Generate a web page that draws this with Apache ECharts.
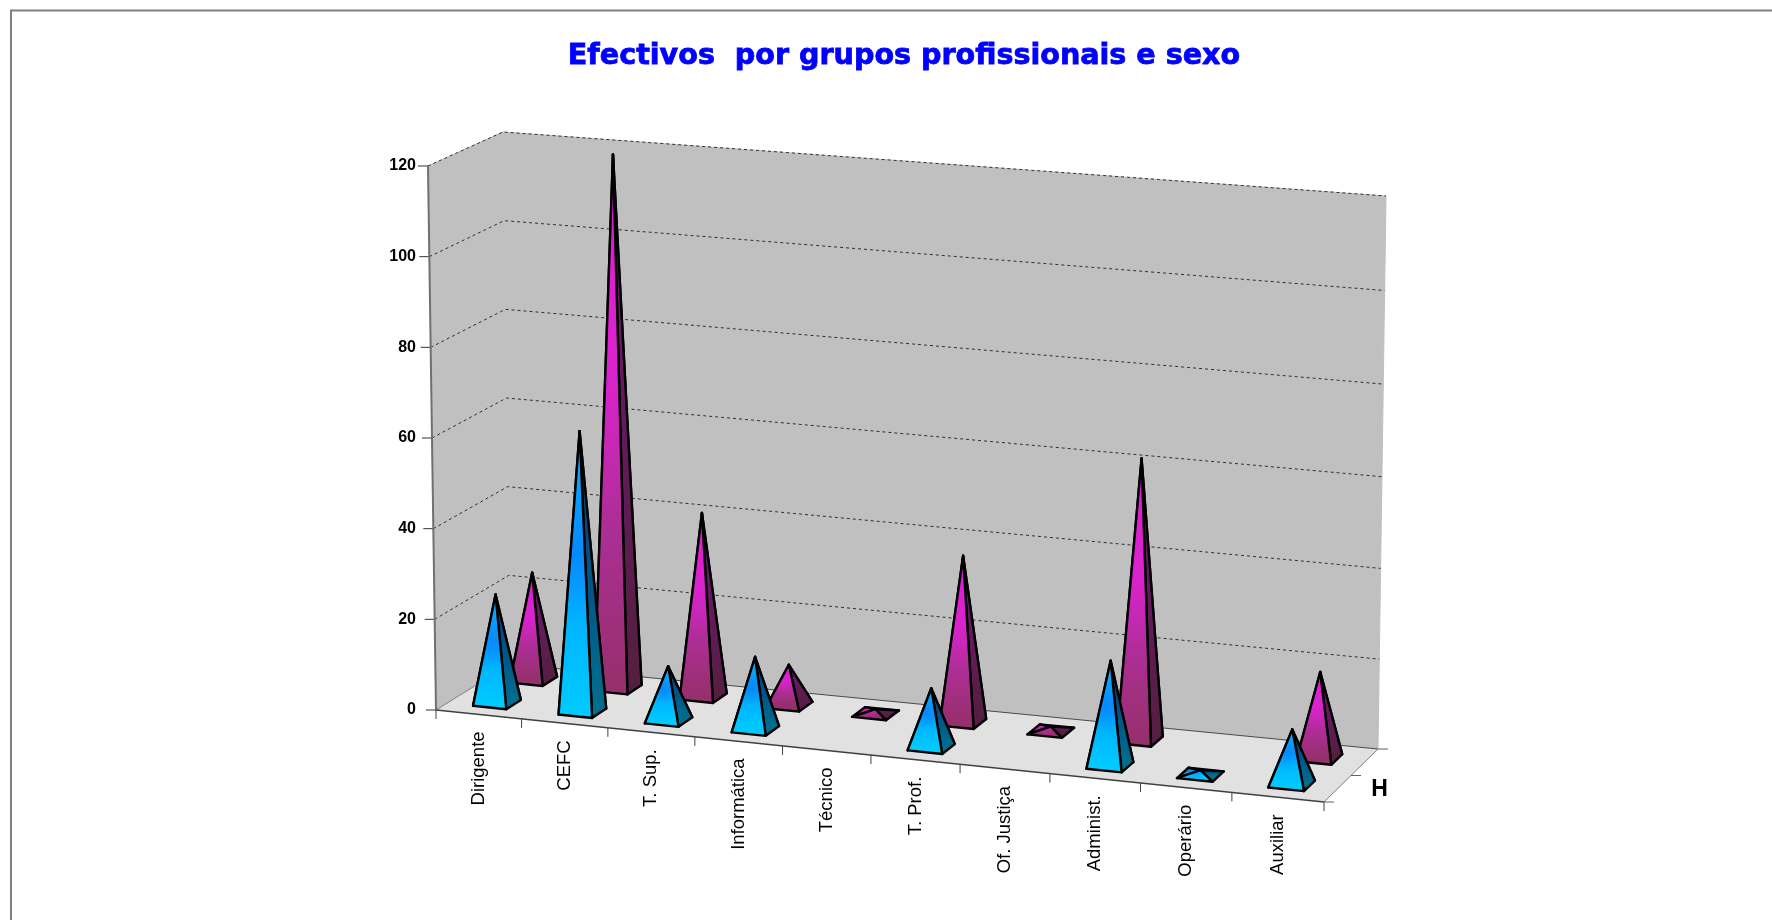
<!DOCTYPE html>
<html lang="pt">
<head>
<meta charset="utf-8">
<title>Efectivos por grupos profissionais e sexo</title>
<style>html,body{margin:0;padding:0;background:#fff}#chart{width:1772px;height:920px}</style>
<script src="https://cdn.jsdelivr.net/npm/echarts@6/dist/echarts.min.js"></script>
</head>
<body>
<div id="chart"></div>
<script>
// ---- data ----
const titleText = 'Efectivos  por grupos profissionais e sexo';
const categories = ['Dirigente','CEFC','T. Sup.','Informática','Técnico','T. Prof.','Of. Justiça','Administ.','Operário','Auxiliar'];
const homens   = [24, 62, 12, 16, null, 13, null, 23, 1, 12];
const mulheres = [24, 119, 41, 9, 1, 37, 1, 62, null, 19];
const yMax = 120;
const yStep = 20;
const yTicks = [0, 20, 40, 60, 80, 100, 120];
const depthLabel = 'H';

// ---- 3D box layout: [u(0 left..1 right), v(0 floor..1 top), w(0 front..1 back)] corners in page pixels ----
const box = {
  '000': [436, 710], '100': [1324, 802], '001': [510, 664], '101': [1378, 749],
  '010': [428, 166], '110': [1332, 237], '011': [503, 132], '111': [1386, 196]
};
const perspU = -0.04;
const perspV = -0.03;
const baseHalfU = 0.195;   // fraction of one category band
const baseHalfW = 0.10;    // fraction of box depth
const rowW = { H: 0.25, M: 0.75 };

function lerp(a, b, t) { return [a[0] + (b[0] - a[0]) * t, a[1] + (b[1] - a[1]) * t]; }
function project(u, v0, w) {
  const p = u * (1 + perspU) / (1 + perspU * u);
  const h = perspV * u;
  const v = v0 * (1 + h) / (1 + h * v0);
  const lowF = lerp(box['000'], box['100'], p), lowB = lerp(box['001'], box['101'], p);
  const upF  = lerp(box['010'], box['110'], p), upB  = lerp(box['011'], box['111'], p);
  return lerp(lerp(lowF, lowB, w), lerp(upF, upB, w), v);
}
function norm(params, pt) {
  const cs = params.coordSys;
  return { u: (pt[0] - cs.x) / cs.width, v: (cs.y + cs.height - pt[1]) / cs.height };
}

const palettes = {
  H: {
    front: [[0, '#10a8fa'], [0.45, '#0a9cfc'], [0.72, '#00b8ff'], [1, '#00caff']],
    right: [[0, '#00387c'], [0.5, '#005488'], [1, '#006f8e']],
    left:  [[0, '#0a90f0'], [1, '#00a8f0']],
    back:  [[0, '#004a90'], [1, '#005c96']],
    glow:  'rgba(0,110,250,0.4)', glow0: 'rgba(0,110,250,0)'
  },
  M: {
    front: [[0, '#e21cdc'], [0.35, '#d424c4'], [0.7, '#ac2e94'], [1, '#96306c']],
    right: [[0, '#741272'], [0.5, '#641a5c'], [1, '#541f40']],
    left:  [[0, '#d020c0'], [1, '#a02c88']],
    back:  [[0, '#64106a'], [1, '#7a1478']],
    glow:  'rgba(240,30,235,0.35)', glow0: 'rgba(240,30,235,0)'
  }
};
const Lin = echarts.graphic.LinearGradient, Rad = echarts.graphic.RadialGradient;
function stops(list) { return list.map(s => ({ offset: s[0], color: s[1] })); }
function poly(pts, style) {
  return { type: 'polygon', shape: { points: pts }, style };
}
function line(pts, stroke, width, dash) {
  return { type: 'polyline', shape: { points: pts },
    style: { fill: null, stroke, lineWidth: width || 1, lineDash: dash || null } };
}

function pyramidRenderer(row) {
  const pal = palettes[row];
  return function (params, api) {
    const i = api.value(0), val = api.value(1);
    if (val == null || isNaN(val)) return null;
    const tip = norm(params, api.coord([i, val]));
    const base = norm(params, api.coord([i, 0]));
    const band = api.size([1, 0])[0] / params.coordSys.width;
    const hu = band * baseHalfU, wc = rowW[row];
    const P = (du, dw) => project(tip.u + du * hu, base.v, wc + dw * baseHalfW);
    const fl = P(-1, -1), fr = P(1, -1), br = P(1, 1), bl = P(-1, 1);
    const apex = project(tip.u, tip.v, wc);
    const by = (fl[1] + br[1]) / 2;
    const grad = list => new Lin(apex[0], apex[1], apex[0], by, stops(list), true);
    const ew = 2.4;
    const edge = { fill: null, stroke: '#000', lineWidth: ew, lineJoin: 'round' };
    const h = by - apex[1];
    const glow = new Rad(fl[0] + (apex[0] - fl[0]) * 0.8, apex[1] + h * 0.42,
      Math.max(h * 0.26, 10),
      [{ offset: 0, color: pal.glow }, { offset: 1, color: pal.glow0 }], true);
    return { type: 'group', children: [
      poly([bl, br, apex], { fill: grad(pal.back), stroke: '#000', lineWidth: ew, lineJoin: 'round' }),
      poly([fl, bl, apex], { fill: grad(pal.left), stroke: '#000', lineWidth: ew, lineJoin: 'round' }),
      poly([fr, br, apex], { fill: grad(pal.right), stroke: '#000', lineWidth: ew, lineJoin: 'round' }),
      poly([fl, fr, apex], { fill: grad(pal.front) }),
      poly([fl, fr, apex], { fill: glow }),
      poly([fl, fr, apex], edge)
    ] };
  };
}

function wallsRenderer(params, api) {
  const C = (u, v, w) => project(u, v, w);
  const wall = { fill: '#c0c0c0', stroke: '#c0c0c0', lineWidth: 1 };
  const kids = [
    poly([C(0,0,0), C(0,1,0), C(0,1,1), C(0,0,1)], wall),
    poly([C(0,0,1), C(0,1,1), C(1,1,1), C(1,0,1)], wall),
    poly([C(0,0,0), C(1,0,0), C(1,0,1), C(0,0,1)], { fill: '#e1e1e1' })
  ];
  yTicks.forEach(t => {
    const v = norm(params, api.coord([0, t])).v;
    if (t > 0) kids.push(line([C(0,v,0), C(0,v,1), C(0.25,v,1), C(0.5,v,1), C(0.75,v,1), C(1,v,1)], '#303030', 1, [3, 3]));
    const a = C(0, v, 0);
    kids.push(line([a, [a[0] - 10, a[1]]], '#333', 1));
  });
  kids.push(line([C(0,0,0), C(0,1,0)], '#707070', 2));
  kids.push(line([C(0,0,1), C(0,0,0)], '#808080', 1));
  kids.push(line([C(0,0,1), C(1,0,1)], '#4a4a4a', 1));
  kids.push(line([C(0,0,0), C(1,0,0)], '#404040', 1.5));
  kids.push(line([C(1,0,0), C(1,0,1)], '#808080', 1));
  // category ticks on the front floor edge
  for (let k = 0; k <= categories.length; k++) {
    const a = C(k / categories.length, 0, 0);
    kids.push(line([a, [a[0], a[1] + 9]], '#404040', 1));
  }
  // depth ticks on the right floor edge
  [0, 0.5, 1].forEach(w => {
    const a = C(1, 0, w);
    kids.push(line([a, [a[0] + 10, a[1]]], '#606060', 1));
  });
  const d = C(1, 0, rowW.H);
  kids.push({ type: 'text', x: d[0] + 42, y: d[1] + 0.5, style: {
    text: depthLabel, align: 'center', verticalAlign: 'middle',
    fontFamily: 'Liberation Sans', fontWeight: 'bold', fontSize: 23, fill: '#000' } });
  return { type: 'group', children: kids };
}

function categoryLabelRenderer(params, api) {
  const i = api.value(0);
  const n = norm(params, api.coord([i, 0]));
  const a = project(n.u, 0, 0);
  return { type: 'text', x: a[0], y: a[1] + 17, rotation: Math.PI / 2, style: {
    text: categories[i], align: 'right', verticalAlign: 'middle',
    fontFamily: 'Liberation Sans', fontSize: 18.5, fill: '#000' } };
}

const idx = categories.map((c, i) => i);
const chart = echarts.init(document.getElementById('chart'), null, { renderer: 'canvas' });
chart.setOption({
  animation: false,
  backgroundColor: '#fff',
  title: {
    text: titleText, left: 899, top: 37, textAlign: 'center',
    textStyle: { fontFamily: 'DejaVu Sans', fontWeight: 'bold', fontSize: 28.6, color: '#0000ff',
      textBorderColor: '#0000ff', textBorderWidth: 0.8,
      textShadowColor: 'rgba(0,0,170,0.6)', textShadowOffsetX: 1, textShadowOffsetY: 1, textShadowBlur: 0 }
  },
  graphic: [{ type: 'polyline', silent: true, z: -1,
    shape: { points: [[11, 920], [11, 10.5], [1772, 10.5]] },
    style: { fill: null, stroke: '#808080', lineWidth: 2 } }],
  grid: { left: 432, top: 166, width: 888, height: 544 },
  xAxis: { type: 'category', data: categories, show: false },
  yAxis: {
    type: 'value', min: 0, max: yMax, interval: yStep,
    axisLine: { show: false }, axisTick: { show: false }, splitLine: { show: false },
    axisLabel: { margin: 16, fontFamily: 'Liberation Sans', fontWeight: 'bold', fontSize: 16, color: '#000' }
  },
  series: [
    { type: 'custom', name: 'Walls', silent: true, z: 1, renderItem: wallsRenderer, data: [[0, 0]],
      encode: { x: 0, y: 1 } },
    { type: 'custom', name: 'M', silent: true, z: 2, renderItem: pyramidRenderer('M'),
      data: idx.map(i => [i, mulheres[i]]), encode: { x: 0, y: 1 } },
    { type: 'custom', name: 'H', silent: true, z: 3, renderItem: pyramidRenderer('H'),
      data: idx.map(i => [i, homens[i]]), encode: { x: 0, y: 1 } },
    { type: 'custom', name: 'Labels', silent: true, z: 4, renderItem: categoryLabelRenderer,
      data: idx.map(i => [i, 0]), encode: { x: 0, y: 1 } }
  ]
});
</script>
</body>
</html>
